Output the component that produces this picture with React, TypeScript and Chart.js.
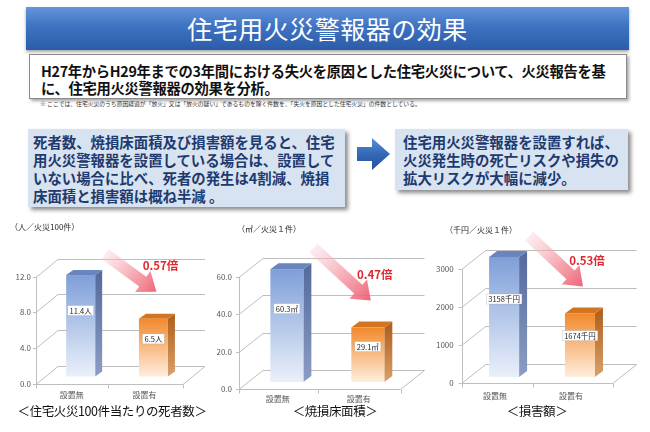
import React, { useEffect, useRef } from 'react';
import { Chart, registerables } from 'chart.js';

Chart.register(...registerables);

const FONT = '"Noto Sans CJK JP", "Noto Sans", sans-serif';

// ---------- data ----------
const categories = ['設置無', '設置有'];
const deathsPer100Fires = [11.4, 6.5];
const burnedFloorArea = [60.3, 29.1];
const damagePerFire = [3158, 1674];
const deathsValueLabels = ['11.4人', '6.5人'];
const areaValueLabels = ['60.3㎡', '29.1㎡'];
const damageValueLabels = ['3158千円', '1674千円'];
const ratioLabels = ['0.57倍', '0.47倍', '0.53倍'];
const yMaxes = [12, 60, 3000];
const ySteps = [4, 20, 1000];
const yDecimals = [1, 1, 0];
const unitLabels = ['（人／火災100件）', '（㎡／火災１件）', '（千円／火災１件）'];
const chartTitles = ['＜住宅火災100件当たりの死者数＞', '＜焼損床面積＞', '＜損害額＞'];

const seriesValues = [deathsPer100Fires, burnedFloorArea, damagePerFire];
const seriesLabels = [deathsValueLabels, areaValueLabels, damageValueLabels];

// ---------- layout (positions / sizes only) ----------
type Layout = {
  left: number; top: number; w: number; h: number;
  area: { left: number; right: number; top: number; bottom: number };
  xr: [number, number];
  barW: number;
  wall: [number, number];
  shift: [number, number];
  depth: [number, number];
  xPad: number; yPad: number;
  unitX: number; unitY: number;
  titleX: number;
};

const layouts: Layout[] = [
  {
    left: 0, top: 215, w: 215, h: 217,
    area: { left: 36, right: 183, top: 61.7, bottom: 168.5 },
    xr: [-0.49, 1.53], barW: 29, wall: [22, -18], shift: [9, -7], depth: [7, -5],
    xPad: 6.5, yPad: 5, unitX: 10, unitY: 222, titleX: 112,
  },
  {
    left: 210, top: 215, w: 215, h: 217,
    area: { left: 29, right: 190.5, top: 61.7, bottom: 174 },
    xr: [-0.48, 1.515], barW: 33, wall: [24, -19], shift: [9, -7], depth: [8, -6],
    xPad: 5, yPad: 7, unitX: 237, unitY: 224, titleX: 335,
  },
  {
    left: 425, top: 215, w: 225, h: 217,
    area: { left: 36.7, right: 187.7, top: 54, bottom: 168 },
    xr: [-0.44, 1.55], barW: 30, wall: [24, -19], shift: [9, -6], depth: [8, -6],
    xPad: 8.5, yPad: 8, unitX: 445, unitY: 225, titleX: 537,
  },
];

const barPalettes = [
  { frontTop: '#7F9FD8', frontBottom: '#EAF0FA', sideTop: '#566C9E', sideBottom: '#8C9DC4', top: '#6A84BD' },
  { frontTop: '#F2892C', frontBottom: '#FEEEDD', sideTop: '#B2621F', sideBottom: '#D9A06C', top: '#D37420' },
];

function make3DPlugin(i: number) {
  const L = layouts[i];
  const bars = () => [] as { l: number; r: number; t: number; b: number }[];
  let faces = bars();
  return {
    id: 'bars3d' + i,
    beforeDatasetsDraw(chart: any) {
      const { ctx, chartArea: ca } = chart;
      const ys = chart.scales.y;
      const xs = chart.scales.x;
      const [wx, wy] = L.wall;
      ctx.save();
      ctx.strokeStyle = '#BEBEBE';
      ctx.lineWidth = 1;
      // back wall gridlines + side wall diagonals
      for (const t of ys.ticks) {
        const y = Math.round(ys.getPixelForValue(t.value)) + 0.5;
        ctx.beginPath();
        ctx.moveTo(ca.left - 3, y);
        ctx.lineTo(ca.left, y);
        ctx.lineTo(ca.left + wx, y + wy);
        ctx.lineTo(ca.right + wx, y + wy);
        ctx.stroke();
      }
      const x0 = Math.round(ca.left) + 0.5;
      const yb = Math.round(ys.getPixelForValue(0)) + 0.5;
      ctx.beginPath();
      ctx.moveTo(x0, ys.getPixelForValue(yMaxes[i]));
      ctx.lineTo(x0, yb);
      ctx.stroke();
      // floor
      ctx.beginPath();
      ctx.moveTo(ca.left, yb);
      ctx.lineTo(ca.right, yb);
      ctx.lineTo(ca.right + wx, yb + wy);
      ctx.stroke();
      for (const px of [ca.left, xs.getPixelForValue(0.5), ca.right]) {
        const xx = Math.round(px) + 0.5;
        ctx.beginPath();
        ctx.moveTo(xx, yb);
        ctx.lineTo(xx, yb + 4);
        ctx.stroke();
      }

      // 3D bars
      const meta = chart.getDatasetMeta(0);
      const [sx, sy] = L.shift;
      const [dx, dy] = L.depth;
      faces = [];
      meta.data.forEach((el: any, k: number) => {
        const p = el.getProps(['x', 'y', 'base', 'width'], true);
        const l = p.x - p.width / 2 + sx;
        const r = p.x + p.width / 2 + sx;
        const t = p.y + sy;
        const b = p.base + sy;
        faces.push({ l, r, t, b });
        const pal = barPalettes[k % barPalettes.length];
        // side face
        let g = ctx.createLinearGradient(0, t, 0, b);
        g.addColorStop(0, pal.sideTop);
        g.addColorStop(1, pal.sideBottom);
        ctx.fillStyle = g;
        ctx.beginPath();
        ctx.moveTo(r, t);
        ctx.lineTo(r + dx, t + dy);
        ctx.lineTo(r + dx, b + dy);
        ctx.lineTo(r, b);
        ctx.closePath();
        ctx.fill();
        // top face
        ctx.fillStyle = pal.top;
        ctx.beginPath();
        ctx.moveTo(l, t);
        ctx.lineTo(l + dx, t + dy);
        ctx.lineTo(r + dx, t + dy);
        ctx.lineTo(r, t);
        ctx.closePath();
        ctx.fill();
        // front face
        g = ctx.createLinearGradient(0, t, 0, b);
        g.addColorStop(0, pal.frontTop);
        g.addColorStop(1, pal.frontBottom);
        ctx.fillStyle = g;
        ctx.fillRect(l, t, r - l, b - t);
      });
      ctx.restore();
    },
    afterDatasetsDraw(chart: any) {
      const { ctx } = chart;
      ctx.save();
      // value labels
      ctx.font = `7.5px ${FONT}`;
      ctx.textAlign = 'center';
      ctx.textBaseline = 'middle';
      faces.forEach((f, k) => {
        const text = seriesLabels[i][k];
        const cx = (f.l + f.r) / 2;
        const cy = f.t + (f.b - f.t) * 0.35;
        const tw = ctx.measureText(text).width + 4;
        ctx.fillStyle = '#FFFFFF';
        ctx.fillRect(cx - tw / 2, cy - 5, tw, 10);
        ctx.strokeStyle = 'rgba(160,160,160,0.6)';
        ctx.lineWidth = 0.5;
        ctx.strokeRect(cx - tw / 2, cy - 5, tw, 10);
        ctx.fillStyle = '#262626';
        ctx.fillText(text, cx, cy + 0.5);
      });
      // reduction arrow
      if (faces.length >= 2) {
        const a = faces[0];
        const c = faces[1];
        const tx = a.r + 10, ty = a.t - 21;
        const hx = (c.l + c.r) / 2 + 3, hy = c.t - 27;
        const len = Math.hypot(hx - tx, hy - ty);
        const ux = (hx - tx) / len, uy = (hy - ty) / len;
        const nx = -uy, ny = ux;
        const sw = 6, hw = 13, hl = 17;
        const kx = hx - ux * hl, ky = hy - uy * hl;
        const g = ctx.createLinearGradient(tx, ty, hx, hy);
        g.addColorStop(0, 'rgba(248,200,206,0.35)');
        g.addColorStop(0.5, 'rgba(244,150,162,0.75)');
        g.addColorStop(1, 'rgba(238,92,110,0.95)');
        ctx.fillStyle = g;
        ctx.beginPath();
        ctx.moveTo(tx + nx * sw, ty + ny * sw);
        ctx.lineTo(kx + nx * sw, ky + ny * sw);
        ctx.lineTo(kx + nx * hw, ky + ny * hw);
        ctx.lineTo(hx, hy);
        ctx.lineTo(kx - nx * hw, ky - ny * hw);
        ctx.lineTo(kx - nx * sw, ky - ny * sw);
        ctx.lineTo(tx - nx * sw, ty - ny * sw);
        ctx.closePath();
        ctx.fill();
        // ratio text
        ctx.font = `bold 11.5px ${FONT}`;
        ctx.fillStyle = '#E0262E';
        ctx.textAlign = 'center';
        ctx.textBaseline = 'middle';
        ctx.fillText(ratioLabels[i], (c.l + c.r) / 2 + 7, c.t - 53);
      }
      ctx.restore();
    },
  };
}

function makeConfig(i: number): any {
  const L = layouts[i];
  return {
    type: 'bar',
    data: {
      datasets: [
        {
          data: seriesValues[i].map((v, k) => ({ x: k, y: v })),
          backgroundColor: 'rgba(0,0,0,0)',
          borderWidth: 0,
          barThickness: L.barW,
        },
      ],
    },
    options: {
      responsive: false,
      animation: false,
      events: [],
      layout: { padding: { left: 0, top: L.area.top, right: L.w - L.area.right, bottom: 0 } },
      plugins: { legend: { display: false }, tooltip: { enabled: false }, title: { display: false } },
      scales: {
        x: {
          type: 'linear',
          min: L.xr[0],
          max: L.xr[1],
          offset: false,
          grid: { display: false, drawTicks: false },
          border: { display: false },
          afterBuildTicks: (s: any) => {
            s.ticks = categories.map((_, k) => ({ value: k }));
          },
          afterFit: (s: any) => {
            s.height = L.h - L.area.bottom;
          },
          ticks: {
            autoSkip: false,
            maxRotation: 0,
            padding: L.xPad,
            color: '#595959',
            font: { family: FONT, size: 8 },
            callback: (v: any) => categories[Math.round(Number(v))] ?? '',
          },
        },
        y: {
          min: 0,
          max: yMaxes[i],
          grid: { display: false, drawTicks: false },
          border: { display: false },
          afterFit: (s: any) => {
            s.width = L.area.left;
          },
          ticks: {
            stepSize: ySteps[i],
            padding: L.yPad,
            color: '#595959',
            font: { family: FONT, size: 8 },
            callback: (v: any) => Number(v).toFixed(yDecimals[i]),
          },
        },
      },
    },
    plugins: [make3DPlugin(i)],
  };
}

const abs = (o: React.CSSProperties): React.CSSProperties => ({ position: 'absolute', ...o });

export default function App() {
  const c0 = useRef<HTMLCanvasElement>(null);
  const c1 = useRef<HTMLCanvasElement>(null);
  const c2 = useRef<HTMLCanvasElement>(null);

  useEffect(() => {
    const refs = [c0, c1, c2];
    const charts = refs.map((r, i) => new Chart(r.current as HTMLCanvasElement, makeConfig(i)));
    return () => charts.forEach((ch) => ch.destroy());
  }, []);

  const refs = [c0, c1, c2];
  const darkBlue = '#1E3A6E';

  return (
    <div
      style={{
        position: 'fixed', left: 0, top: 0, width: 650, height: 432, background: '#FFFFFF',
        overflow: 'hidden', fontFamily: FONT,
      }}
    >
      {/* title banner */}
      <div
        style={abs({
          left: 26, top: 7, width: 603, height: 43,
          background: 'linear-gradient(180deg, #6595DA 0%, #3E72C2 45%, #2C5CA8 100%)',
          boxShadow: '0 2px 3px rgba(0,0,0,0.35)',
          color: '#FFFFFF', fontSize: 25, lineHeight: '43px', textAlign: 'center', letterSpacing: 0.5,
        })}
      >
        住宅用火災警報器の効果
      </div>

      {/* summary box */}
      <div
        style={abs({
          left: 29, top: 54, width: 596, height: 43, border: '1px solid #8A8A8A', background: '#FFFFFF',
          boxShadow: '2px 2px 3px rgba(0,0,0,0.35)', boxSizing: 'content-box',
        })}
      >
        <div style={abs({ left: 11, top: 7, fontSize: 14.3, fontWeight: 700, lineHeight: '17.4px', color: '#111', whiteSpace: 'nowrap', letterSpacing: -0.3 })}>
          H27年からH29年までの3年間における失火を原因とした住宅火災について、火災報告を基
          <br />
          に、住宅用火災警報器の効果を分析。
        </div>
      </div>
      <div style={abs({ left: 40, top: 100, fontSize: 5.8, lineHeight: '8px', color: '#333', whiteSpace: 'nowrap' })}>
        ※ ここでは、住宅火災のうち原因経過が「放火」又は「放火の疑い」であるものを除く件数を、「失火を原因とした住宅火災」の件数としている。
      </div>

      {/* left message box */}
      <div
        style={abs({
          left: 28, top: 129, width: 317, height: 78, background: '#D8E3F1',
          boxShadow: '3px 3px 4px rgba(0,0,0,0.45)',
        })}
      >
        <div style={abs({ left: 5, top: 3.5, fontSize: 14.4, fontWeight: 700, lineHeight: '18px', color: darkBlue, whiteSpace: 'nowrap' })}>
          死者数、焼損床面積及び損害額を見ると、住宅
          <br />
          用火災警報器を設置している場合は、設置して
          <br />
          いない場合に比べ、死者の発生は4割減、焼損
          <br />
          床面積と損害額は概ね半減 。
        </div>
      </div>

      {/* blue arrow */}
      <svg style={abs({ left: 354, top: 136, overflow: 'visible' })} width={40} height={36}>
        <defs>
          <linearGradient id="blueArrow" x1="0" y1="0" x2="0" y2="1">
            <stop offset="0" stopColor="#5C8FD6" />
            <stop offset="0.5" stopColor="#3568B6" />
            <stop offset="1" stopColor="#24519A" />
          </linearGradient>
        </defs>
        <polygon points="3,11 18,11 18,2 36,18 18,34 18,25 3,25" fill="url(#blueArrow)" />
      </svg>

      {/* right message box */}
      <div
        style={abs({
          left: 395, top: 129, width: 233, height: 61, background: '#D8E3F1',
          boxShadow: '3px 3px 4px rgba(0,0,0,0.45)',
        })}
      >
        <div style={abs({ left: 8, top: 3.5, fontSize: 14.4, fontWeight: 700, lineHeight: '18px', color: darkBlue, whiteSpace: 'nowrap' })}>
          住宅用火災警報器を設置すれば、
          <br />
          火災発生時の死亡リスクや損失の
          <br />
          拡大リスクが大幅に減少。
        </div>
      </div>

      {/* charts */}
      {layouts.map((L, i) => (
        <canvas
          key={'c' + i}
          ref={refs[i]}
          width={L.w}
          height={L.h}
          style={abs({ left: L.left, top: L.top, width: L.w, height: L.h, display: 'block' })}
        />
      ))}
      {layouts.map((L, i) => (
        <div key={'u' + i} style={abs({ left: L.unitX, top: L.unitY, fontSize: 8, lineHeight: '10px', color: '#262626', whiteSpace: 'nowrap' })}>
          {unitLabels[i]}
        </div>
      ))}
      {layouts.map((L, i) => (
        <div
          key={'t' + i}
          style={abs({ left: L.titleX - 110, top: 403, width: 220, textAlign: 'center', fontSize: 12.5, lineHeight: '16px', color: '#111', whiteSpace: 'nowrap', letterSpacing: -0.4 })}
        >
          {chartTitles[i]}
        </div>
      ))}
    </div>
  );
}
